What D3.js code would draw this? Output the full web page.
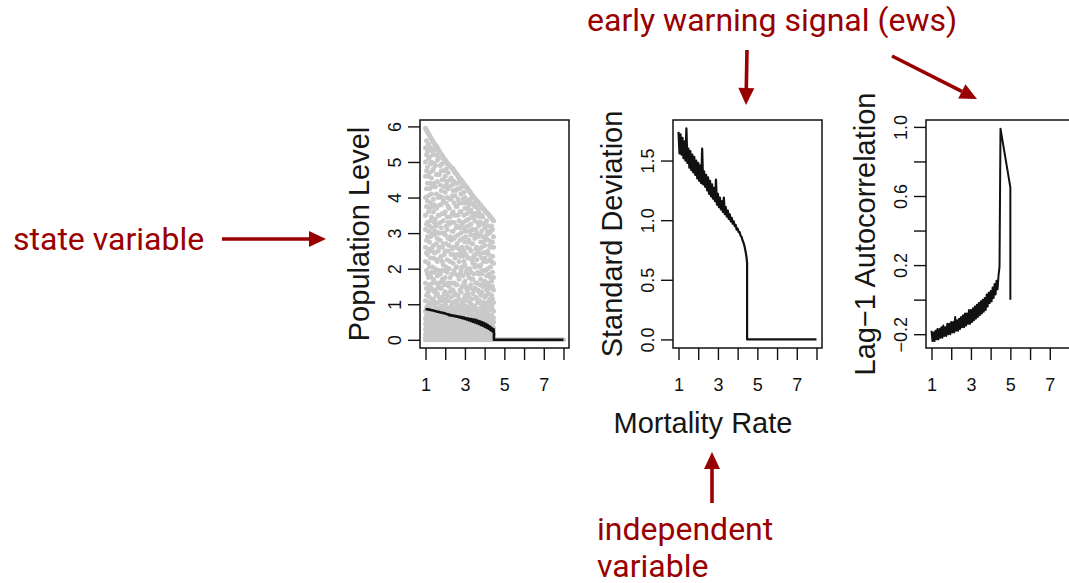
<!DOCTYPE html>
<html>
<head>
<meta charset="utf-8">
<script src="https://cdn.jsdelivr.net/npm/d3@7"></script>
<style>
  body { margin: 0; background: #fff; }
  svg { display: block; }
  .axis text { font-family: "Liberation Sans", Arial, sans-serif; font-size: 18px; fill: #111; }
  .axis line { stroke: #111; stroke-width: 1.4; }
  .ytitle, .xtitle { font-family: "Liberation Sans", Arial, sans-serif; font-size: 29px; fill: #161616; }
  .note { font-family: Roboto, sans-serif; font-size: 32px; fill: #990000; }
</style>
</head>
<body>
<svg id="viz" width="1069" height="583"></svg>
<script>
// mortality rate grid used by the three summary lines
var rate = [1.00,1.05,1.10,1.15,1.20,1.25,1.30,1.35,1.40,1.45,
  1.50,1.55,1.60,1.65,1.70,1.75,1.80,1.85,1.90,1.95,
  2.00,2.05,2.10,2.15,2.20,2.25,2.30,2.35,2.40,2.45,
  2.50,2.55,2.60,2.65,2.70,2.75,2.80,2.85,2.90,2.95,
  3.00,3.05,3.10,3.15,3.20,3.25,3.30,3.35,3.40,3.45,
  3.50,3.55,3.60,3.65,3.70,3.75,3.80,3.85,3.90,3.95,
  4.00,4.05,4.10,4.15,4.20,4.25,4.30,4.35,4.40,4.45];

var popMean = [0.87,0.86,0.86,0.85,0.85,0.84,0.83,0.83,0.82,0.81,
  0.81,0.80,0.79,0.79,0.78,0.77,0.77,0.76,0.75,0.75,
  0.74,0.73,0.72,0.72,0.69,0.70,0.68,0.69,0.67,0.68,
  0.66,0.67,0.65,0.66,0.63,0.65,0.62,0.64,0.60,0.63,
  0.59,0.61,0.57,0.60,0.55,0.59,0.53,0.58,0.51,0.57,
  0.49,0.56,0.47,0.54,0.45,0.52,0.42,0.50,0.40,0.48,
  0.37,0.45,0.34,0.42,0.31,0.38,0.27,0.34,0.24,0.30];
var popMeanTailX = [4.47, 4.47, 8];
var popMeanTailY = [0.26, 0, 0];

var sdVals = [1.74,1.56,1.72,1.55,1.69,1.52,1.66,1.50,1.77,1.48,
  1.60,1.44,1.58,1.42,1.55,1.40,1.53,1.38,1.50,1.35,
  1.48,1.33,1.46,1.31,1.60,1.30,1.41,1.28,1.38,1.25,
  1.36,1.22,1.33,1.20,1.30,1.18,1.27,1.16,1.34,1.13,
  1.22,1.11,1.19,1.09,1.16,1.07,1.19,1.05,1.11,1.03,
  1.08,1.01,1.05,0.99,1.02,0.97,0.99,0.95,0.96,0.92,
  0.93,0.90,0.90,0.87,0.86,0.83,0.81,0.78,0.74,0.69];
var sdTailX = [4.48, 4.48, 8];
var sdTailY = [0.64, 0, 0];

var acVals = [-0.18,-0.24,-0.19,-0.24,-0.18,-0.23,-0.17,-0.23,-0.17,-0.22,
  -0.16,-0.22,-0.15,-0.21,-0.16,-0.21,-0.14,-0.20,-0.14,-0.20,
  -0.13,-0.19,-0.13,-0.19,-0.10,-0.18,-0.12,-0.18,-0.11,-0.17,
  -0.10,-0.16,-0.09,-0.16,-0.08,-0.15,-0.08,-0.14,-0.06,-0.14,
  -0.06,-0.13,-0.05,-0.12,-0.04,-0.11,-0.03,-0.10,-0.02,-0.09,
  -0.01,-0.08,0.00,-0.07,0.01,-0.06,0.03,-0.04,0.04,-0.02,
  0.05,-0.01,0.07,0.01,0.09,0.03,0.11,0.06,0.14,0.19];
var acTailX = [4.5, 5.0, 5.0];
var acTailY = [0.99, 0.65, 0.0];

// simulated population levels, one column per mortality rate
var popColX = [1.0,1.1,1.2,1.3,1.4,1.5,1.6,1.7,1.8,1.9,2.0,2.1,2.2,2.3,2.4,2.5,2.6,2.7,
  2.8,2.9,3.0,3.1,3.2,3.3,3.4,3.5,3.6,3.7,3.8,3.9,4.0,4.1,4.2,4.3,4.4];
var popColY = [
  [0,0.05,0.15,0.3,0.45,0.6,0.8,1.1,1.6,2.2,2.6,3.1,3.5,4.0,4.6,5.0,5.4,5.95],
  [0,0.1,0.25,0.4,0.7,0.95,1.3,1.85,2.4,2.9,3.3,3.9,4.4,4.85,5.3,5.85],
  [0,0.05,0.2,0.35,0.55,0.9,1.2,1.55,2.05,2.75,3.2,3.7,4.25,4.7,5.15,5.75],
  [0,0.1,0.3,0.5,0.65,1.0,1.45,1.9,2.5,3.0,3.45,4.1,4.55,5.0,5.65],
  [0,0.08,0.2,0.4,0.6,0.85,1.15,1.7,2.3,2.65,3.6,3.95,4.8,5.2,5.55],
  [0,0.05,0.15,0.35,0.5,0.75,1.05,1.4,2.0,2.45,3.05,3.4,4.3,4.9,5.45],
  [0,0.1,0.25,0.45,0.7,0.9,1.3,1.8,2.2,2.85,3.25,3.75,4.45,5.05,5.4],
  [0,0.05,0.2,0.4,0.55,0.8,1.2,1.6,2.6,3.0,3.5,4.05,4.65,5.3],
  [0,0.1,0.3,0.45,0.65,0.95,1.45,1.95,2.35,3.15,3.8,4.2,4.75,5.2],
  [0,0.05,0.15,0.35,0.6,0.85,1.1,1.65,2.1,2.7,3.35,3.9,4.5,5.1],
  [0,0.1,0.25,0.4,0.7,1.0,1.35,1.75,2.5,2.95,3.6,4.15,4.6,5.05],
  [0,0.05,0.2,0.5,0.65,0.9,1.25,1.9,2.25,3.1,3.45,4.0,4.45,4.95],
  [0,0.1,0.3,0.45,0.6,0.8,1.5,2.0,2.65,3.25,3.7,4.3,4.9],
  [0,0.05,0.15,0.35,0.55,0.95,1.2,1.6,2.4,2.8,3.3,3.95,4.55,4.85],
  [0,0.1,0.25,0.4,0.75,1.05,1.4,2.15,2.6,3.05,3.6,4.2,4.8],
  [0,0.05,0.2,0.45,0.6,0.85,1.3,1.85,2.3,2.9,3.5,4.05,4.4,4.7],
  [0,0.1,0.3,0.5,0.7,1.0,1.55,2.05,2.7,3.2,3.75,4.25,4.65],
  [0,0.05,0.15,0.35,0.55,0.9,1.15,1.7,2.2,2.55,3.35,3.85,4.55],
  [0,0.1,0.25,0.4,0.65,0.8,1.35,1.95,2.45,3.0,3.6,4.1,4.5],
  [0,0.05,0.2,0.45,0.6,1.05,1.5,1.8,2.35,2.85,3.3,3.95,4.42],
  [0,0.1,0.3,0.5,0.7,0.95,1.25,1.65,2.1,2.75,3.15,3.7,4.0,4.35],
  [0,0.05,0.15,0.35,0.55,0.8,1.4,2.0,2.6,3.05,3.55,3.9,4.28],
  [0,0.1,0.25,0.4,0.65,0.9,1.2,1.75,2.3,2.8,3.4,3.8,4.2],
  [0,0.05,0.2,0.45,0.6,1.0,1.55,1.9,2.5,2.95,3.25,3.65,4.12],
  [0,0.1,0.3,0.5,0.7,0.85,1.3,1.7,2.15,2.7,3.1,3.55,4.05],
  [0,0.05,0.15,0.35,0.55,0.95,1.45,2.05,2.4,2.85,3.35,3.75,3.98],
  [0,0.1,0.25,0.4,0.6,0.8,1.15,1.6,2.25,2.6,3.0,3.5,3.9],
  [0,0.05,0.2,0.45,0.65,1.05,1.35,1.85,2.55,3.2,3.6,3.85],
  [0,0.1,0.3,0.5,0.7,0.9,1.25,1.7,2.1,2.75,3.3,3.78],
  [0,0.05,0.15,0.35,0.55,0.85,1.5,1.95,2.45,2.9,3.45,3.7],
  [0,0.1,0.25,0.4,0.6,0.95,1.2,1.65,2.3,2.65,3.15,3.65],
  [0,0.05,0.2,0.45,0.65,0.8,1.4,1.8,2.2,2.95,3.35,3.58],
  [0,0.1,0.3,0.5,0.7,1.0,1.3,1.55,2.4,2.8,3.2,3.52],
  [0,0.05,0.15,0.35,0.55,0.9,1.1,1.75,2.05,2.6,3.05,3.45],
  [0,0.1,0.25,0.4,0.6,0.85,1.15,1.5,1.9,2.35,2.75,3.1,3.38]
];
// second run of replicates, between the columns above
var popColX2 = [1.05,1.15,1.25,1.35,1.45,1.55,1.65,1.75,1.85,1.95,2.05,2.15,2.25,2.35,2.45,
  2.55,2.65,2.75,2.85,2.95,3.05,3.15,3.25,3.35,3.45,3.55,3.65,3.75,3.85,3.95,4.05,4.15,
  4.25,4.35,4.45];
var popColY2 = [
  [0.02,0.12,0.22,0.38,0.52,0.68,0.9,1.25,1.45,1.95,2.45,2.8,3.25,3.75,4.25,4.75,5.2,5.6,5.9],
  [0.03,0.18,0.32,0.48,0.62,0.8,1.05,1.35,1.75,2.15,2.55,3.05,3.6,4.05,4.6,5.1,5.5,5.8],
  [0.02,0.12,0.28,0.45,0.6,0.75,1.0,1.4,1.8,2.3,2.9,3.35,3.85,4.4,4.95,5.4,5.7],
  [0.04,0.15,0.25,0.42,0.58,0.78,1.1,1.6,2.05,2.6,3.15,3.75,4.3,4.75,5.3,5.6],
  [0.02,0.14,0.3,0.47,0.7,0.98,1.35,1.9,2.45,2.95,3.3,3.8,4.4,4.95,5.35,5.52],
  [0.03,0.1,0.28,0.42,0.62,0.88,1.25,1.6,2.25,2.7,3.2,3.7,4.1,4.65,5.2,5.45],
  [0.02,0.16,0.33,0.52,0.6,0.78,1.05,1.5,1.95,2.5,3.0,3.5,4.0,4.65,5.1,5.35],
  [0.04,0.13,0.27,0.48,0.68,0.88,1.1,1.45,1.85,2.3,2.8,3.3,3.8,4.35,4.9,5.25],
  [0.02,0.18,0.22,0.38,0.55,0.75,1.2,1.7,2.2,2.6,3.0,3.55,4.0,4.5,4.95,5.18],
  [0.03,0.12,0.28,0.48,0.7,0.95,1.3,1.55,1.95,2.4,3.0,3.55,4.3,4.75,5.1],
  [0.02,0.16,0.32,0.5,0.58,0.8,1.15,1.55,2.05,2.7,3.2,3.85,4.35,4.8,5.02],
  [0.04,0.13,0.27,0.38,0.55,0.75,1.1,1.6,2.0,2.5,2.85,3.3,3.75,4.25,4.7,4.95],
  [0.02,0.17,0.22,0.4,0.65,0.9,1.35,1.75,2.2,2.9,3.45,3.95,4.5,4.88],
  [0.03,0.12,0.3,0.5,0.7,0.85,1.05,1.4,1.85,2.55,3.05,3.55,4.05,4.35,4.82],
  [0.02,0.16,0.35,0.48,0.58,0.9,1.25,1.6,1.95,2.4,2.85,3.3,3.85,4.45,4.75],
  [0.04,0.13,0.27,0.38,0.52,0.75,1.1,1.55,2.05,2.6,3.15,3.75,4.2,4.68],
  [0.02,0.18,0.22,0.42,0.62,0.85,1.25,1.8,2.4,2.95,3.5,3.95,4.4,4.6],
  [0.03,0.12,0.3,0.48,0.7,0.95,1.4,1.85,2.35,2.8,3.15,3.6,4.25,4.52],
  [0.02,0.16,0.33,0.5,0.58,0.75,1.05,1.5,2.05,2.6,3.25,3.85,4.3,4.46],
  [0.04,0.13,0.27,0.38,0.55,0.88,1.15,1.6,2.2,2.5,3.05,3.5,4.15,4.38],
  [0.02,0.17,0.22,0.4,0.62,0.8,1.1,1.5,1.9,2.4,2.9,3.35,3.85,4.3],
  [0.03,0.12,0.3,0.48,0.68,0.92,1.3,1.85,2.3,2.75,3.2,3.7,4.24],
  [0.02,0.16,0.35,0.5,0.58,0.75,1.05,1.45,2.0,2.55,3.05,3.6,3.95,4.16],
  [0.04,0.13,0.27,0.38,0.55,0.82,1.15,1.7,2.25,2.7,3.1,3.45,3.85,4.08],
  [0.02,0.18,0.22,0.42,0.65,0.95,1.4,1.85,2.35,2.95,3.45,3.8,4.0],
  [0.03,0.12,0.3,0.48,0.7,0.88,1.2,1.6,2.1,2.55,3.1,3.55,3.94],
  [0.02,0.16,0.33,0.52,0.6,0.75,1.05,1.4,1.9,2.45,2.9,3.3,3.7,3.88],
  [0.04,0.13,0.27,0.38,0.55,0.8,1.1,1.55,2.05,2.4,2.95,3.45,3.8],
  [0.02,0.17,0.22,0.4,0.62,0.95,1.35,1.85,2.3,2.6,3.05,3.5,3.74],
  [0.03,0.12,0.3,0.48,0.68,0.78,1.05,1.6,2.2,2.75,3.25,3.68],
  [0.02,0.16,0.35,0.5,0.58,0.88,1.25,1.5,1.95,2.45,2.85,3.3,3.6],
  [0.04,0.13,0.27,0.38,0.55,0.75,1.05,1.6,2.0,2.5,3.05,3.55],
  [0.02,0.18,0.22,0.42,0.65,0.85,1.15,1.45,1.85,2.25,2.65,3.0,3.48],
  [0.03,0.12,0.3,0.48,0.7,0.95,1.25,1.65,2.2,2.75,3.2,3.42],
  [0.02,0.16,0.33,0.5,0.62,0.8,1.05,1.4,1.75,2.15,2.6,2.9,3.35]
];
// after the collapse every population sits at zero
var zeroTailX = [4.5,4.6,4.7,4.8,4.9,5.0,5.1,5.2,5.3,5.4,5.5,5.6,5.7,5.8,5.9,6.0,
  6.1,6.2,6.3,6.4,6.5,6.6,6.7,6.8,6.9,7.0,7.1,7.2,7.3,7.4,7.5,7.6,7.7,7.8,7.9,8.0];

var xTicks = [1, 2, 3, 4, 5, 6, 7, 8];
var xTickLabels = [1, 3, 5, 7];

var popTicks = [0, 1, 2, 3, 4, 5, 6];
var sdTicks = [0, 0.5, 1, 1.5];
var acTicks = [-0.2, 0, 0.2, 0.4, 0.6, 0.8, 1.0];
var acTickLabels = [-0.2, 0.2, 0.6, 1.0];

var svg = d3.select("#viz");

var boxTop = 120,
  boxH = 228,
  boxW = 149;

function fmtMinus(s) {
  return s.replace("-", "\u2212");
}

function makePanel(left, yDomain, yTicks, yLabels, yFmt, title) {
  var x = d3.scaleLinear().domain([0.72, 8.28]).range([0, boxW]);
  var y = d3.scaleLinear().domain(yDomain).range([boxH, 0]);
  var g = svg.append("g").attr("transform", "translate(" + left + "," + boxTop + ")");

  var xAxis = d3
    .axisBottom(x)
    .tickValues(xTicks)
    .tickSize(12)
    .tickFormat(function(d) {
      return xTickLabels.indexOf(d) >= 0 ? d : "";
    });
  var gx = g
    .append("g")
    .attr("class", "axis")
    .attr("transform", "translate(0," + boxH + ")")
    .call(xAxis);
  gx.select(".domain").remove();
  gx.selectAll("text").attr("y", 43).attr("dy", null);

  var yAxis = d3
    .axisLeft(y)
    .tickValues(yTicks)
    .tickSize(12)
    .tickFormat(function(d) {
      return yLabels.indexOf(d) >= 0 ? fmtMinus(yFmt(d)) : "";
    });
  var gy = g
    .append("g")
    .attr("class", "axis")
    .call(yAxis);
  gy.select(".domain").remove();
  gy.selectAll("text")
    .attr("x", 0)
    .attr("y", -19)
    .attr("dy", null)
    .attr("text-anchor", "middle")
    .attr("transform", "rotate(-90)");

  g.append("text")
    .attr("class", "ytitle")
    .attr("text-anchor", "middle")
    .attr("transform", "translate(-51," + boxH / 2 + ") rotate(-90)")
    .text(title);

  var plot = g.append("g");

  g.append("rect")
    .attr("width", boxW)
    .attr("height", boxH)
    .attr("fill", "none")
    .attr("stroke", "#111")
    .attr("stroke-width", 1.5);

  return { g: plot, x: x, y: y };
}

function seriesLine(p, xs, ys, width) {
  var line = d3
    .line()
    .x(function(d) {
      return p.x(d[0]);
    })
    .y(function(d) {
      return p.y(d[1]);
    });
  p.g.append("path")
    .datum(d3.zip(xs, ys))
    .attr("d", line)
    .attr("fill", "none")
    .attr("stroke", "#111")
    .attr("stroke-width", width)
    .attr("stroke-linejoin", "round");
}

// panel 1: population level
var p1 = makePanel(420, [-0.23, 6.18], popTicks, popTicks, d3.format("d"), "Population Level");

var popPts = [];
popColX.forEach(function(cx, i) {
  popColY[i].forEach(function(v) {
    popPts.push([cx, v]);
  });
});
popColX2.forEach(function(cx, i) {
  popColY2[i].forEach(function(v) {
    popPts.push([cx, v]);
  });
});
zeroTailX.forEach(function(cx) {
  popPts.push([cx, 0]);
});

p1.g.selectAll("circle")
  .data(popPts)
  .enter()
  .append("circle")
  .attr("cx", function(d) {
    return p1.x(d[0]);
  })
  .attr("cy", function(d) {
    return p1.y(d[1]);
  })
  .attr("r", 2.5)
  .attr("fill", "#c9c9c9");

seriesLine(p1, rate.concat(popMeanTailX), popMean.concat(popMeanTailY), 2.6);

// panel 2: standard deviation
var p2 = makePanel(673, [-0.072, 1.84], sdTicks, sdTicks, d3.format(".1f"), "Standard Deviation");
seriesLine(p2, rate.concat(sdTailX), sdVals.concat(sdTailY), 2.2);

// panel 3: lag-1 autocorrelation
var p3 = makePanel(926, [-0.28, 1.04], acTicks, acTickLabels, d3.format(".1f"), "Lag\u22121 Autocorrelation");
seriesLine(p3, rate.concat(acTailX), acVals.concat(acTailY), 2.0);

svg.append("text")
  .attr("class", "xtitle")
  .attr("x", 703)
  .attr("y", 433)
  .attr("text-anchor", "middle")
  .text("Mortality Rate");

// annotations
function arrow(x1, y1, x2, y2) {
  var ang = Math.atan2(y2 - y1, x2 - x1),
    len = 17,
    half = 8;
  var bx = x2 - len * Math.cos(ang),
    by = y2 - len * Math.sin(ang);
  svg.append("line")
    .attr("x1", x1)
    .attr("y1", y1)
    .attr("x2", bx)
    .attr("y2", by)
    .attr("stroke", "#990000")
    .attr("stroke-width", 3.6);
  var pts = [
    [x2, y2],
    [bx + half * Math.sin(ang), by - half * Math.cos(ang)],
    [bx - half * Math.sin(ang), by + half * Math.cos(ang)]
  ];
  svg.append("path")
    .attr("d", "M" + pts.join("L") + "Z")
    .attr("fill", "#990000");
}

svg.append("text").attr("class", "note").attr("x", 13).attr("y", 250).text("state variable");
arrow(222, 239, 326, 239);

svg.append("text").attr("class", "note").attr("x", 587).attr("y", 31).text("early warning signal (ews)");
arrow(747, 50, 746, 105);
arrow(892, 56, 977, 99);

svg.append("text").attr("class", "note").attr("x", 597).attr("y", 540).text("independent");
svg.append("text").attr("class", "note").attr("x", 597).attr("y", 577).text("variable");
arrow(712, 503, 712, 452);
</script>
</body>
</html>
